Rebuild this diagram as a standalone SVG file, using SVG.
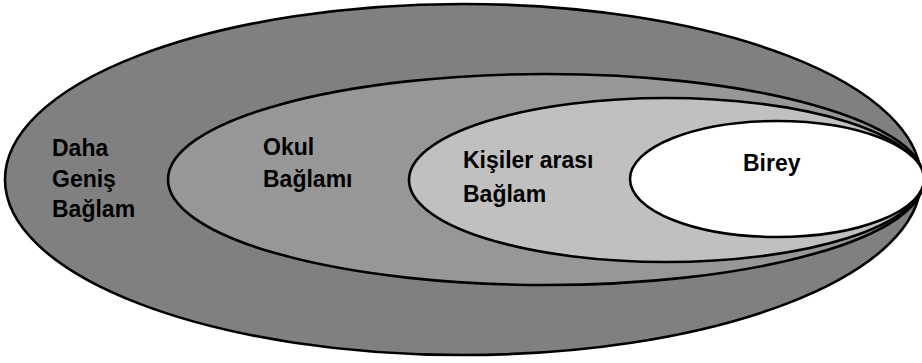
<svg xmlns="http://www.w3.org/2000/svg" width="922" height="363" viewBox="0 0 922 363">
  <style>
    .ring { stroke: #000000; stroke-width: 2.6; }
    .lbl { font-family: "Liberation Sans", Arial, sans-serif; font-weight: bold; font-size: 23px; fill: #000000; }
  </style>
  <rect x="0" y="0" width="922" height="363" fill="#ffffff"/>
  <g id="daha-genis-baglam">
    <ellipse class="ring" cx="463" cy="179.5" rx="458" ry="175.5" fill="#808080"/>
    <text class="lbl" x="52" y="156">Daha</text>
    <text class="lbl" x="52" y="187">Geniş</text>
    <text class="lbl" x="52" y="217">Bağlam</text>
  </g>
  <g id="okul-baglami">
    <ellipse class="ring" cx="546" cy="179.5" rx="378" ry="105.5" fill="#979797"/>
    <text class="lbl" x="263" y="155">Okul</text>
    <text class="lbl" x="263" y="187">Bağlamı</text>
  </g>
  <g id="kisiler-arasi-baglam">
    <ellipse class="ring" cx="666" cy="180" rx="257" ry="82" fill="#c0c0c0"/>
    <text class="lbl" x="463" y="168">Kişiler arası</text>
    <text class="lbl" x="463" y="202">Bağlam</text>
  </g>
  <g id="birey">
    <ellipse class="ring" cx="777" cy="179" rx="147" ry="58" fill="#ffffff"/>
    <text class="lbl" x="743" y="171">Birey</text>
  </g>
  <g id="connectors"></g>
</svg>
